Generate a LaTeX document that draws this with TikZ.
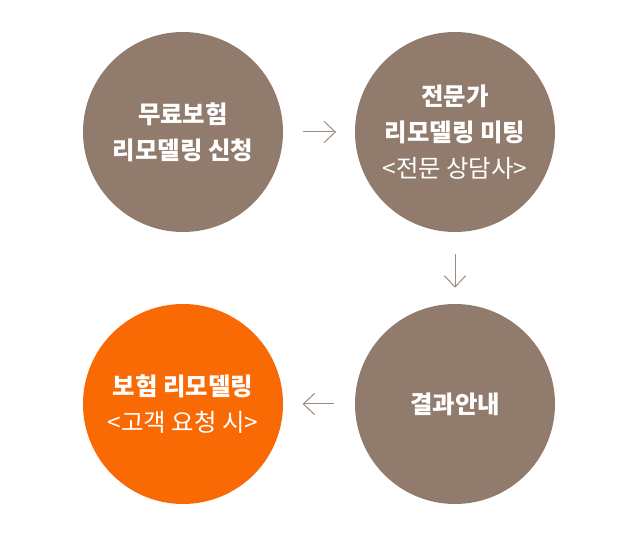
\documentclass[tikz,border=0pt]{standalone}
\usepackage{fontspec}
\setmainfont{Noto Sans CJK KR}
\usetikzlibrary{arrows.meta}
\definecolor{stepbrown}{HTML}{917B6D}
\definecolor{steporange}{HTML}{F96A05}
\definecolor{arrowbrown}{HTML}{A08A7E}
\tikzset{
  stepcircle/.style={circle,fill=stepbrown,minimum size=150pt,inner sep=0pt,
    text=white,align=center,font=\fontsize{18.3}{27}\selectfont},
  flow/.style={draw=arrowbrown,line width=0.75pt,-{Straight Barb[length=8.5pt,width=16pt]}}
}
\begin{document}
\begin{tikzpicture}[x=0.75pt,y=-0.75pt]
\useasboundingbox (0,0) rectangle (640,538);
% four steps
\node[stepcircle] (apply) at (183,132) {\textbf{무료보험}\\\textbf{리모델링 신청}};
\node[stepcircle] (meet) at (455,132) {\textbf{전문가}\\\textbf{리모델링 미팅}\\<전문 상담사>};
\node[stepcircle] (result) at (455,404) {\textbf{결과안내}};
\node[stepcircle,fill=steporange] (remodel) at (183,404) {\textbf{보험 리모델링}\\<고객 요청 시>};
% arrows
\draw[flow,shorten <=15pt,shorten >=14pt] (apply) -- (meet);
\draw[flow,shorten <=16.5pt,shorten >=12pt] (meet) -- (result);
\draw[flow,shorten <=15.5pt,shorten >=14.5pt] (result) -- (remodel);
\end{tikzpicture}
\end{document}
